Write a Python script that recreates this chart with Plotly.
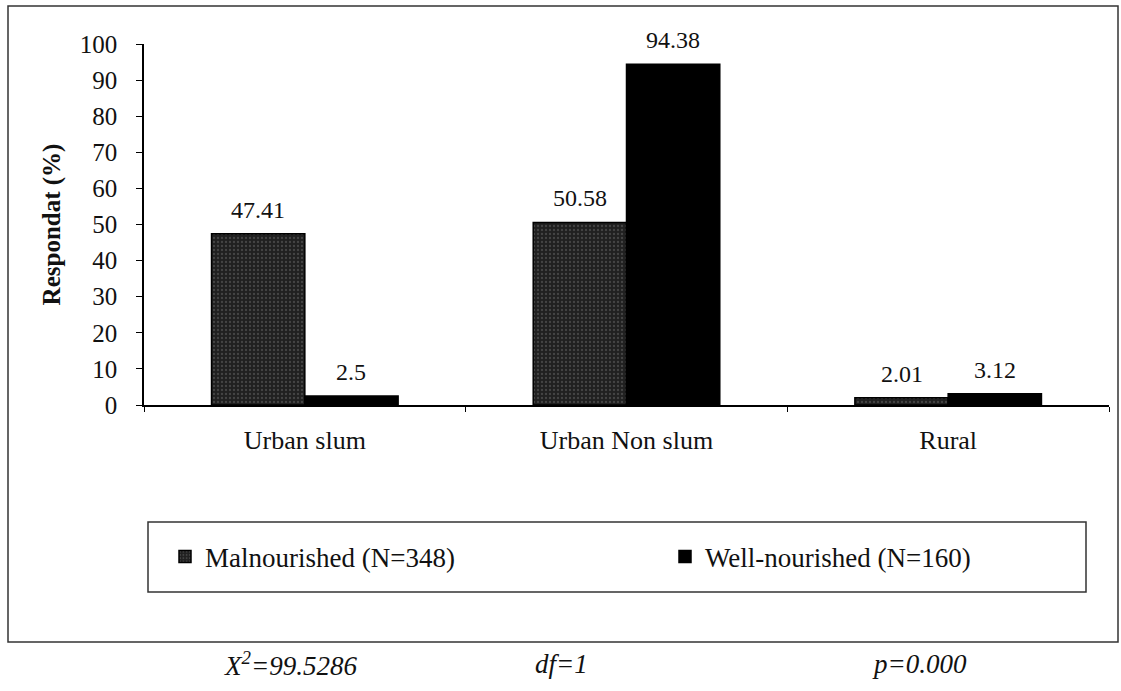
import plotly.graph_objects as go

# Residence categories and share of respondents (%) per nutrition group
categories = ["Urban slum", "Urban Non slum", "Rural"]
malnourished = [47.41, 50.58, 2.01]
well_nourished = [2.5, 94.38, 3.12]
series_names = ["Malnourished (N=348)", "Well-nourished (N=160)"]
y_ticks = [0, 10, 20, 30, 40, 50, 60, 70, 80, 90, 100]
stats_text = ["X<sup>2</sup>=99.5286", "df=1", "p=0.000"]

W, H = 1121, 691
L, R, T, B = 144, 12, 44, 286
PW, PH = W - L - R, H - T - B
FONT = "'Liberation Serif', 'Times New Roman', serif"
INK = "#111"
BARGAP = 0.42


def px_x(x):
    return (x - L) / PW


def px_y(y):
    return (H - B - y) / PH


fig = go.Figure()
fig.add_trace(go.Bar(
    x=categories, y=malnourished, name=series_names[0], legend="legend",
    marker=dict(color="#202020", line=dict(color="#000", width=1.5),
                pattern=dict(shape=".", fgcolor="#6a6a6a", bgcolor="#202020",
                             size=4, solidity=0.25)),
))
fig.add_trace(go.Bar(
    x=categories, y=well_nourished, name=series_names[1], legend="legend2",
    marker=dict(color="#000", line=dict(color="#000", width=1.5)),
))

# Value labels above each bar (grouped bars sit half a bar width off centre)
bar_px = PW / len(categories) * (1 - BARGAP) / 2
for vals, shift in ((malnourished, -bar_px / 2), (well_nourished, bar_px / 2)):
    for cat, v in zip(categories, vals):
        fig.add_annotation(x=cat, y=v, xref="x", yref="y", text=f"{v:g}",
                           showarrow=False, xanchor="center", yanchor="bottom",
                           xshift=shift, yshift=9,
                           font=dict(family=FONT, size=24, color=INK))

legend_common = dict(orientation="h", yanchor="middle", xanchor="left",
                     bgcolor="rgba(0,0,0,0)", borderwidth=0, itemwidth=30,
                     font=dict(family=FONT, size=27, color=INK))

fig.update_layout(
    width=W, height=H,
    margin=dict(l=L, r=R, t=T, b=B),
    paper_bgcolor="white", plot_bgcolor="white",
    barmode="group", bargap=BARGAP, bargroupgap=0,
    font=dict(family=FONT, color=INK),
    showlegend=True,
    legend=dict(x=px_x(165), y=px_y(557), **legend_common),
    legend2=dict(x=px_x(665), y=px_y(557), **legend_common),
    xaxis=dict(showline=True, linecolor="#000", linewidth=1.5,
               ticks="outside", tickson="boundaries", ticklen=5,
               tickcolor="#000", ticklabelstandoff=11,
               tickfont=dict(family=FONT, size=26, color=INK),
               showgrid=False, zeroline=False),
    yaxis=dict(range=[0, 100], tickvals=y_ticks, showline=True,
               linecolor="#000", linewidth=1.5, ticks="outside", ticklen=6,
               tickcolor="#000", ticklabelstandoff=14,
               tickfont=dict(family=FONT, size=25, color=INK),
               showgrid=False, zeroline=False,
               title=dict(text="<b>Respondat (%)</b>", standoff=12,
                          font=dict(family=FONT, size=25, color=INK))),
)

# Outer frame around the chart
fig.add_shape(type="rect", xref="paper", yref="paper",
              x0=px_x(8), x1=px_x(1118), y0=px_y(642), y1=px_y(6),
              line=dict(color="#333", width=1.5), layer="below")
# Legend box
fig.add_shape(type="rect", xref="paper", yref="paper",
              x0=px_x(148), x1=px_x(1086), y0=px_y(592), y1=px_y(522),
              line=dict(color="#333", width=1.5), layer="below")

# Chi-square test summary under the frame
for txt, cx in zip(stats_text, [290, 561, 919]):
    fig.add_annotation(text=txt, xref="paper", yref="paper",
                       x=px_x(cx), y=px_y(664), xanchor="center",
                       yanchor="middle", showarrow=False,
                       font=dict(family=FONT, size=27, color=INK,
                                 style="italic"))

fig.write_html("out.html")
